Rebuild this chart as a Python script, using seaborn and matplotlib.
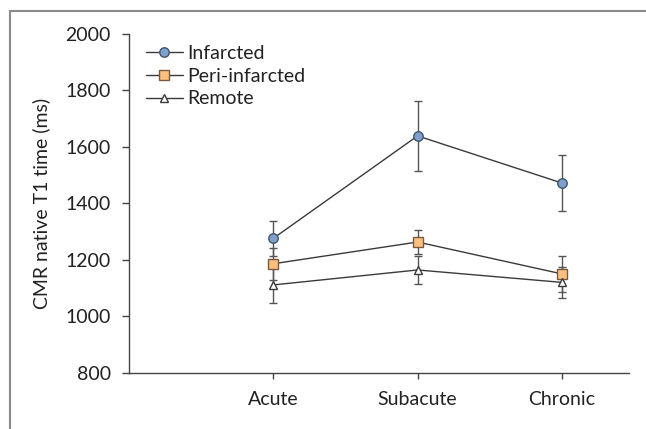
import matplotlib
matplotlib.use("Agg")
import matplotlib.pyplot as plt
import seaborn as sns
import pandas as pd
import numpy as np
from matplotlib.patches import Rectangle

# ---- data ----
phases = ["Acute", "Subacute", "Chronic"]
infarcted = [1276, 1639, 1472]
infarcted_err = [63, 124, 98]
peri_infarcted = [1186, 1263, 1150]
peri_infarcted_err = [56, 42, 64]
remote = [1111, 1164, 1120]
remote_err = [64, 50, 54]
series_names = ["Infarcted", "Peri-infarcted", "Remote"]
y_ticks = [800, 1000, 1200, 1400, 1600, 1800, 2000]

sns.set_style("ticks")
plt.rcParams["font.family"] = ["Liberation Sans Narrow", "Lato", "DejaVu Sans"]

rows = []
for name, vals, errs in zip(series_names,
                            [infarcted, peri_infarcted, remote],
                            [infarcted_err, peri_infarcted_err, remote_err]):
    for i, (p, v, e) in enumerate(zip(phases, vals, errs)):
        rows.append({"series": name, "phase": p, "pos": i + 1, "value": v, "err": e})
df = pd.DataFrame(rows)

fig = plt.figure(figsize=(6.46, 4.29), dpi=100)
ax = fig.add_axes([129 / 646, 1 - 372.7 / 429, 500 / 646, (372.7 - 34) / 429])

dark = "#3a3a3a"
face = {"Infarcted": "#7f9fcc", "Peri-infarcted": "#fbbf80", "Remote": "#ffffff"}
edge = {"Infarcted": "#44546a", "Peri-infarcted": "#7a5a3c", "Remote": "#3a3a3a"}
mk = {"Infarcted": "o", "Peri-infarcted": "s", "Remote": "^"}
ms = {"Infarcted": 6.8, "Peri-infarcted": 6.5, "Remote": 6.0}

# error bars
for name in series_names:
    sub = df[df.series == name]
    ax.errorbar(sub["pos"], sub["value"], yerr=sub["err"], fmt="none",
                ecolor="#555555", elinewidth=1.0, capsize=3.2, capthick=1.0, zorder=2)

# lines with markers via seaborn
for name in series_names:
    sub = df[df.series == name]
    sns.lineplot(data=sub, x="pos", y="value", ax=ax, color=dark, linewidth=1.0,
                 marker=mk[name], markersize=ms[name], markerfacecolor=face[name],
                 markeredgecolor=edge[name], markeredgewidth=1.0, label=name,
                 zorder=3, errorbar=None)

ax.set_xlim(0, 3.465)
ax.set_ylim(800, 2000)
ax.set_xticks([1, 2, 3])
ax.set_xticklabels(phases)
ax.set_yticks(y_ticks)
ax.set_xlabel("")
ax.set_ylabel("CMR native T1 time (ms)", fontsize=14, color="#222222", labelpad=11)

for s in ["top", "right"]:
    ax.spines[s].set_visible(False)
for s in ["left", "bottom"]:
    ax.spines[s].set_color("#444444")
    ax.spines[s].set_linewidth(1.0)

ax.tick_params(axis="y", direction="out", length=5, width=1, color="#444444",
               labelsize=14, labelcolor="#222222", pad=8)
ax.tick_params(axis="x", direction="out", length=4, width=1, color="#444444",
               labelsize=14, labelcolor="#222222", pad=9)

leg = ax.legend(loc="upper left", bbox_to_anchor=(0.012, 1.0), frameon=False,
                fontsize=14, handlelength=1.9, handletextpad=0.25,
                labelspacing=0.3, borderaxespad=0.15)
for t in leg.get_texts():
    t.set_color("#222222")

# outer frame
fig.patches.append(Rectangle((10 / 646, -0.05), 1.2, 1 - 11 / 429 + 0.05,
                             transform=fig.transFigure, fill=False,
                             edgecolor="#8a8a8a", linewidth=1.5))

fig.savefig("out.png", dpi=100)
